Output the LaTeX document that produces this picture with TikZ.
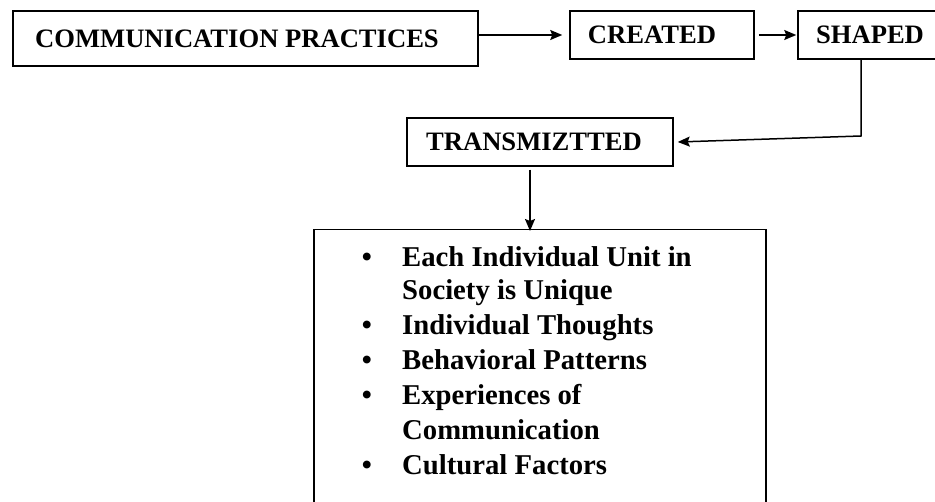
\documentclass[tikz,border=0pt]{standalone}
\usepackage{fontspec}
\setmainfont{Liberation Serif}
\usetikzlibrary{arrows.meta,calc}
\begin{document}
\begin{tikzpicture}[x=1pt,y=-1pt,
  box/.style={draw, line width=1.5pt, inner sep=0pt, font=\fontsize{26.6}{30}\selectfont\bfseries},
  conn/.style={line width=1.5pt, -{Stealth[length=12pt,width=10pt,inset=2pt]}},
  entry/.style={anchor=base west, inner sep=0pt, font=\fontsize{28.7}{33}\selectfont\bfseries},
  dot/.style={anchor=base, inner sep=0pt, font=\fontsize{28.7}{33}\selectfont\bfseries}]
\useasboundingbox (0,0) rectangle (935,502);
\clip (0,0) rectangle (935,502);
\fill[white] (0,0) rectangle (935,502);
% boxes
\node[box, minimum width=465pt, minimum height=55pt] (A) at (245.5,38.5) {COMMUNICATION PRACTICES\kern17pt};
\node[box, minimum width=184pt, minimum height=48pt] (B) at (662,35) {CREATED\kern20pt};
\node[box, minimum width=150pt, minimum height=48pt] (C) at (873,35) {SHAPED\kern6pt};
\node[box, minimum width=266pt, minimum height=48pt] (D) at (540,142) {TRANSMIZTTED\kern12pt};
\node[box, minimum width=452pt, minimum height=300pt, anchor=north] (E) at (540,229) {};
% connectors
\draw[conn] (A.east |- B.west) -- ([xshift=-7pt]B.west);
\draw[conn] ([xshift=4pt]B.east) -- ([xshift=-1pt]C.west);
\coordinate (turn) at (861,136);
\draw[conn] (C.south -| turn) -- (turn) -- ([xshift=4pt]D.east);
\draw[conn] ([xshift=-10pt,yshift=-3pt]D.south) -- ([xshift=-10pt,yshift=-2pt]E.north);
% list
\node[dot] (b1) at (367,267) {\textbullet};
\node[entry] (t1) at (402,267) {Each Individual Unit in};
\node[entry] (t2) at (402,300) {Society is Unique};
\node[dot] (b3) at (367,335) {\textbullet};
\node[entry] (t3) at (402,335) {Individual Thoughts};
\node[dot] (b4) at (367,370) {\textbullet};
\node[entry] (t4) at (402,370) {Behavioral Patterns};
\node[dot] (b5) at (367,405) {\textbullet};
\node[entry] (t5) at (402,405) {Experiences of};
\node[entry] (t6) at (402,440) {Communication};
\node[dot] (b7) at (367,475) {\textbullet};
\node[entry] (t7) at (402,475) {Cultural Factors};
\end{tikzpicture}
\end{document}
